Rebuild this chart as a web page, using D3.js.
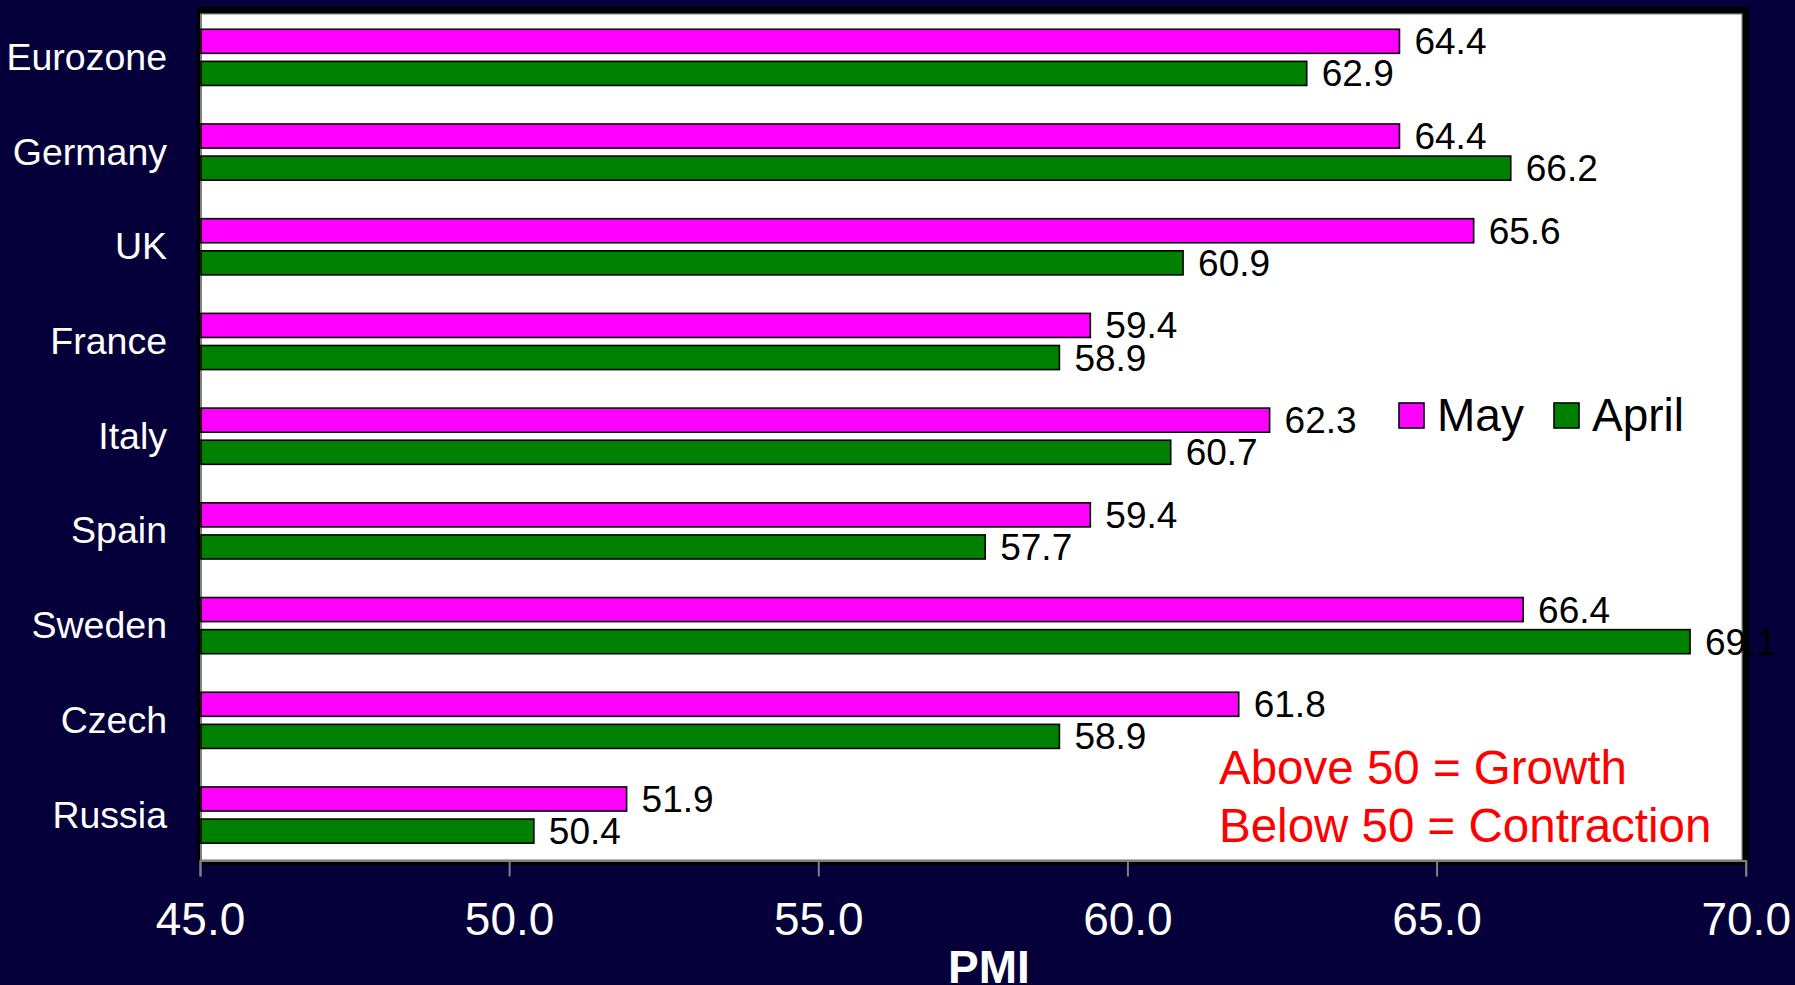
<!DOCTYPE html>
<html>
<head>
<meta charset="utf-8">
<script src="https://cdn.jsdelivr.net/npm/d3@7"></script>
<style>
  html, body { margin: 0; padding: 0; background: #050039; }
  svg { display: block; }
  text { font-family: "Liberation Sans", Arial, sans-serif; }
</style>
</head>
<body>
<svg id="chart" width="1795" height="985"></svg>
<script>
const categories = ["Eurozone", "Germany", "UK", "France", "Italy", "Spain", "Sweden", "Czech", "Russia"];
const seriesNames = ["May", "April"];
const mayValues = [64.4, 64.4, 65.6, 59.4, 62.3, 59.4, 66.4, 61.8, 51.9];
const aprilValues = [62.9, 66.2, 60.9, 58.9, 60.7, 57.7, 69.1, 58.9, 50.4];
const xTicks = [45, 50, 55, 60, 65, 70];
const seriesColors = ["#ff00ff", "#008000"];
const axisTitle = "PMI";
const notes = ["Above 50 = Growth", "Below 50 = Contraction"];

(function () {
const svg = d3.select("#chart");
const W = 1795, H = 985;
svg.append("rect").attr("width", W).attr("height", H).attr("fill", "#050039");

const plotLeft = 200, plotRight = 1745.7, plotTop = 14, plotBottom = 860.5;

const x = d3.scaleLinear().domain([45, 70]).range([plotLeft, plotRight]);
const y = d3.scaleBand().domain(categories).range([10, 862.4]).paddingInner(0).paddingOuter(0);
const ySub = d3.scaleBand().domain(seriesNames).range([0, y.bandwidth()]).paddingInner(0.25).paddingOuter(0.6);
const color = d3.scaleOrdinal().domain(seriesNames).range(seriesColors);

// frame
svg.append("rect").attr("x", 197).attr("y", 7).attr("width", 1749 - 197).attr("height", 865 - 7)
  .attr("rx", 3).attr("fill", "#000");
svg.append("rect").attr("x", 201).attr("y", 14).attr("width", 1742 - 201).attr("height", 860 - 14)
  .attr("fill", "#fff").attr("stroke", "#8a8a8a").attr("stroke-width", 1.2);

// axis lines
svg.append("line").attr("x1", plotLeft + 1).attr("x2", plotLeft + 1).attr("y1", plotTop).attr("y2", 861)
  .attr("stroke", "#808080").attr("stroke-width", 2);

const xAxis = d3.axisBottom(x).tickValues(xTicks).tickFormat(d3.format(".1f")).tickSize(16).tickPadding(26);
const gx = svg.append("g").attr("transform", `translate(0,${plotBottom})`).call(xAxis);
gx.select(".domain").attr("stroke", "#808080").attr("stroke-width", 2);
gx.selectAll(".tick line").attr("stroke", "#808080").attr("stroke-width", 2);
gx.selectAll(".tick text").attr("fill", "#fff").attr("font-size", 46)
  .attr("font-family", "'Liberation Sans', Arial, sans-serif");

// data
const rows = categories.map((c, i) => ({ cat: c, values: [
  { key: "May", value: mayValues[i] },
  { key: "April", value: aprilValues[i] }
]}));

const groups = svg.append("g").selectAll("g").data(rows).join("g")
  .attr("transform", d => `translate(0,${y(d.cat)})`);

groups.selectAll("rect").data(d => d.values).join("rect")
  .attr("x", x(45) + 1)
  .attr("y", d => ySub(d.key))
  .attr("width", d => x(d.value) - x(45) - 1)
  .attr("height", ySub.bandwidth())
  .attr("fill", d => color(d.key))
  .attr("stroke", "#000").attr("stroke-width", 1.6);

groups.selectAll("text").data(d => d.values).join("text")
  .attr("x", d => x(d.value) + 15)
  .attr("y", d => ySub(d.key) + ySub.bandwidth() + 1)
  .attr("font-size", 37).attr("fill", "#000")
  .text(d => d3.format(".1f")(d.value));

// category labels
svg.append("g").selectAll("text").data(categories).join("text")
  .attr("x", 167)
  .attr("y", d => y(d) + y.bandwidth() / 2 + 12.5)
  .attr("text-anchor", "end")
  .attr("font-size", 37.5).attr("fill", "#fff")
  .text(d => d);

// axis title
svg.append("text").attr("x", 989).attr("y", 983).attr("text-anchor", "middle")
  .attr("font-size", 46).attr("font-weight", "bold").attr("fill", "#fff").text(axisTitle);

// legend
const legendPos = [{ sx: 1399, tx: 1437 }, { sx: 1554, tx: 1592 }];
seriesNames.forEach((s, i) => {
  svg.append("rect").attr("x", legendPos[i].sx).attr("y", 403).attr("width", 25).attr("height", 25)
    .attr("fill", color(s)).attr("stroke", "#000").attr("stroke-width", 1.6);
  svg.append("text").attr("x", legendPos[i].tx).attr("y", 431).attr("font-size", 46)
    .attr("fill", "#000").text(s);
});

// notes
notes.forEach((n, i) => {
  svg.append("text").attr("x", 1219).attr("y", 784 + i * 58).attr("font-size", 47.5)
    .attr("fill", "#ff0000").text(n);
});
})();
</script>
</body>
</html>
